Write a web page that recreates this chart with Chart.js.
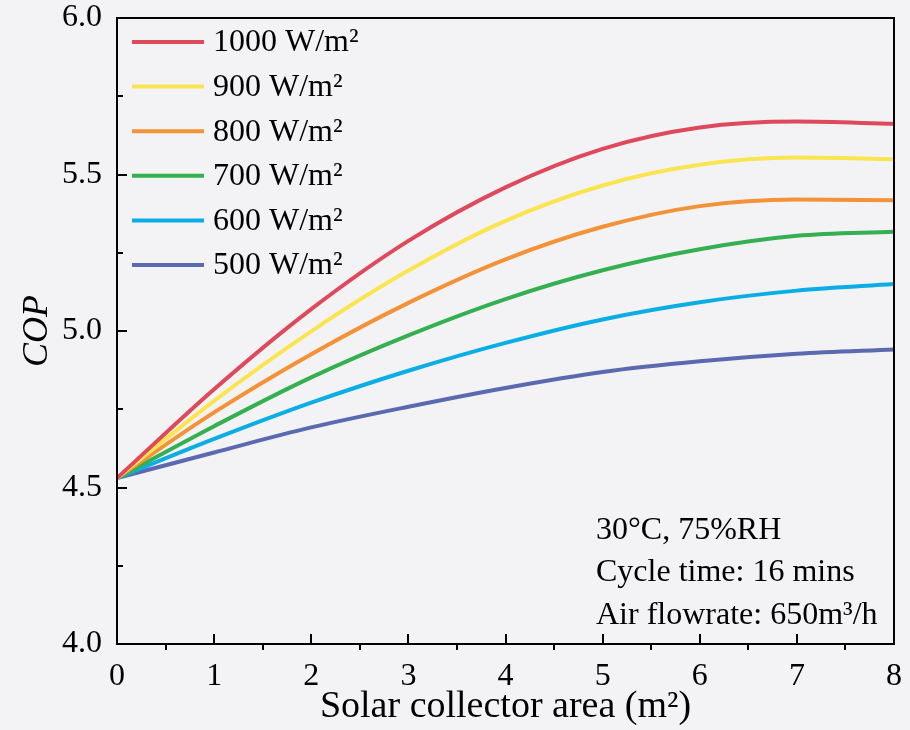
<!DOCTYPE html>
<html>
<head>
<meta charset="utf-8">
<script src="https://cdn.jsdelivr.net/npm/chart.js@4.4.1/dist/chart.umd.min.js"></script>
<style>
  html, body { margin: 0; padding: 0; background: #f3f3f6; }
  #wrap { width: 910px; height: 730px; position: relative; }
  canvas { display: block; }
</style>
</head>
<body>
<div id="wrap"><canvas id="c" width="910" height="730"></canvas></div>
<script>
// Solar collector area (m²)
const collectorArea = [0, 1, 2, 3, 4, 5, 6, 7, 8];

// COP for each solar irradiance level
const cop1000 = [4.53, 4.814, 5.070, 5.288, 5.459, 5.582, 5.650, 5.669, 5.662];
const cop900  = [4.53, 4.777, 4.999, 5.193, 5.352, 5.465, 5.531, 5.554, 5.549];
const cop800  = [4.53, 4.740, 4.926, 5.090, 5.229, 5.333, 5.399, 5.420, 5.418];
const cop700  = [4.53, 4.696, 4.852, 4.986, 5.102, 5.194, 5.261, 5.304, 5.317];
const cop600  = [4.53, 4.655, 4.771, 4.873, 4.962, 5.037, 5.092, 5.129, 5.150];
const cop500  = [4.53, 4.612, 4.692, 4.758, 4.818, 4.869, 4.903, 4.927, 4.941];

const seriesLabels = ['1000 W/m²', '900 W/m²', '800 W/m²', '700 W/m²', '600 W/m²', '500 W/m²'];
const seriesValues = [cop1000, cop900, cop800, cop700, cop600, cop500];
const seriesColors = ['#de4a5c', '#fae550', '#f39236', '#35b050', '#0badE5', '#5a69b0'];

// Axis ticks
const xMajorTicks = [0, 1, 2, 3, 4, 5, 6, 7, 8];
const xMinorTicks = [0.5, 1.5, 2.5, 3.5, 4.5, 5.5, 6.5, 7.5];
const yMajorTicks = [4.0, 4.5, 5.0, 5.5, 6.0];
const yMinorTicks = [4.25, 4.75, 5.25, 5.75];

const conditionLines = ['30°C, 75%RH', 'Cycle time: 16 mins', 'Air flowrate: 650m³/h'];

const SERIF = '"Liberation Serif", "Times New Roman", serif';

const datasets = seriesLabels.map((label, i) => ({
  label,
  data: collectorArea.map((x, j) => ({ x, y: seriesValues[i][j] })),
  borderColor: seriesColors[i],
  backgroundColor: seriesColors[i],
  borderWidth: 4,
  pointRadius: 0,
  cubicInterpolationMode: 'monotone',
  fill: false
}));

// Box frame and tick marks
const framePlugin = {
  id: 'frame',
  afterDraw(chart) {
    const { ctx, chartArea: a, scales: { x, y } } = chart;
    ctx.save();
    ctx.strokeStyle = '#000';
    ctx.lineWidth = 2;
    ctx.strokeRect(a.left, a.top, a.right - a.left, a.bottom - a.top);
    ctx.beginPath();
    yMajorTicks.forEach(v => {
      const py = Math.round(y.getPixelForValue(v));
      ctx.moveTo(a.left, py); ctx.lineTo(a.left + 10, py);
    });
    yMinorTicks.forEach(v => {
      const py = Math.round(y.getPixelForValue(v));
      ctx.moveTo(a.left, py); ctx.lineTo(a.left + 6, py);
    });
    xMajorTicks.forEach(v => {
      const px = Math.round(x.getPixelForValue(v));
      ctx.moveTo(px, a.bottom); ctx.lineTo(px, a.bottom - 10);
    });
    xMinorTicks.forEach(v => {
      const px = Math.round(x.getPixelForValue(v));
      ctx.moveTo(px, a.bottom); ctx.lineTo(px, a.bottom + 6);
    });
    ctx.stroke();
    ctx.restore();
  }
};

// Legend in the upper-left corner of the plot
const legendPlugin = {
  id: 'cornerLegend',
  afterDraw(chart) {
    const { ctx, chartArea: a } = chart;
    ctx.save();
    ctx.font = '32px ' + SERIF;
    ctx.textBaseline = 'middle';
    ctx.textAlign = 'left';
    chart.data.datasets.forEach((ds, i) => {
      const yy = a.top + 24 + i * 44.6;
      ctx.strokeStyle = ds.borderColor;
      ctx.lineWidth = 4;
      ctx.beginPath();
      ctx.moveTo(a.left + 15, yy);
      ctx.lineTo(a.left + 87, yy);
      ctx.stroke();
      ctx.fillStyle = '#000';
      ctx.fillText(ds.label, a.left + 96, yy + 1);
    });
    ctx.restore();
  }
};

// Operating conditions text
const notePlugin = {
  id: 'conditions',
  afterDraw(chart) {
    const { ctx, chartArea: a } = chart;
    ctx.save();
    ctx.font = '32px ' + SERIF;
    ctx.fillStyle = '#000';
    ctx.textBaseline = 'alphabetic';
    ctx.textAlign = 'left';
    const offsets = [105, 63, 20];
    conditionLines.forEach((t, i) => ctx.fillText(t, a.left + 479, a.bottom - offsets[i]));
    ctx.restore();
  }
};

new Chart(document.getElementById('c'), {
  type: 'line',
  data: { datasets },
  options: {
    responsive: false,
    animation: false,
    layout: { padding: { top: 18, right: 16, left: 0, bottom: 0 } },
    plugins: { legend: { display: false }, tooltip: { enabled: false } },
    scales: {
      x: {
        type: 'linear',
        min: 0, max: 8,
        afterFit(scale) {
          scale.height = 86;
          scale.paddingLeft = 0; scale.paddingRight = 0;
        },
        afterBuildTicks(scale) { scale.ticks = xMajorTicks.map(v => ({ value: v })); },
        grid: { display: false, drawTicks: false },
        border: { display: false },
        ticks: {
          color: '#000',
          font: { family: SERIF, size: 32 },
          padding: 13,
          maxRotation: 0,
          callback: v => String(v)
        },
        title: {
          display: true,
          text: 'Solar collector area (m²)',
          color: '#000',
          font: { family: SERIF, size: 38 },
          padding: { top: 0, bottom: 0 }
        }
      },
      y: {
        min: 4.0, max: 6.0,
        afterFit(scale) {
          scale.width = 117;
          scale.paddingTop = 0; scale.paddingBottom = 0;
        },
        afterBuildTicks(scale) { scale.ticks = yMajorTicks.map(v => ({ value: v })); },
        grid: { display: false, drawTicks: false },
        border: { display: false },
        ticks: {
          color: '#000',
          font: { family: SERIF, size: 32 },
          padding: 15,
          callback: v => Number(v).toFixed(1)
        },
        title: {
          display: true,
          text: 'COP',
          color: '#000',
          font: { family: SERIF, size: 36, style: 'italic' },
          padding: { top: 16, bottom: 0 }
        }
      }
    }
  },
  plugins: [framePlugin, legendPlugin, notePlugin]
});
</script>
</body>
</html>
